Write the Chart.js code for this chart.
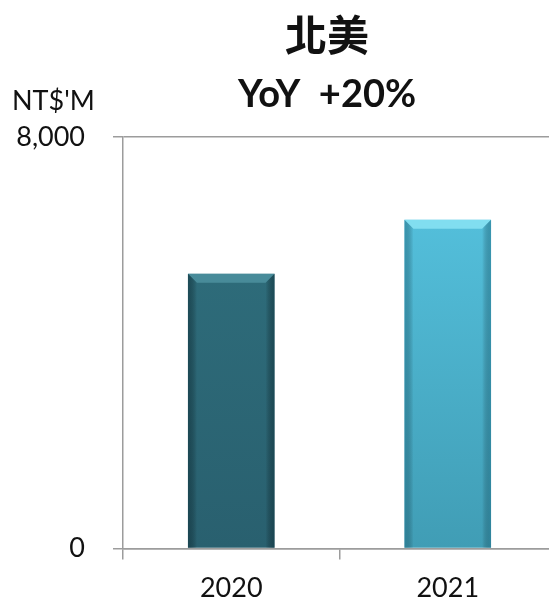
<!DOCTYPE html>
<html>
<head>
<meta charset="utf-8">
<script src="https://cdn.jsdelivr.net/npm/chart.js@4.4.1/dist/chart.umd.min.js"></script>
<style>
  html, body { margin: 0; padding: 0; background: #fff; overflow: hidden; }
  #wrap { width: 549px; height: 603px; overflow: hidden; }
</style>
</head>
<body>
<div id="wrap"><canvas id="chart" width="556" height="616"></canvas></div>
<script>
// chart values
const categories = ['2020', '2021'];
const revenue = [5340, 6390];
const yTicks = [0, 8000];
const chartTitle = '北美';
const chartSubtitle = 'YoY  +20%';
const unitLabel = "NT$'M";

// look
const barTop = ['#30717f', '#58c7e4'];
const barBottom = ['#29606f', '#409db5'];
const bevelLight = ['rgba(95,165,180,0.55)', 'rgba(150,235,250,0.7)'];
const edgeDark = ['rgba(15,50,60,0.55)', 'rgba(30,110,135,0.5)'];
const axisColor = '#9c9c9c';
const textColor = '#111';
const latin = 'Lato, "Open Sans", sans-serif';
const cjk = '"Noto Sans CJK TC", "Noto Sans CJK SC", sans-serif';

// bevel look on the bars, drawn over each bar element
const bevel = {
	id: 'bevel',
	afterDatasetsDraw(chart) {
		const ctx = chart.ctx;
		chart.getDatasetMeta(0).data.forEach((bar, i) => {
			const p = bar.getProps(['x', 'y', 'base', 'width'], true);
			const l = p.x - p.width / 2, r = p.x + p.width / 2, d = 9;
			ctx.save();
			ctx.fillStyle = bevelLight[i];
			ctx.beginPath();
			ctx.moveTo(l, p.y);
			ctx.lineTo(r, p.y);
			ctx.lineTo(r - d, p.y + d);
			ctx.lineTo(l + d, p.y + d);
			ctx.closePath();
			ctx.fill();

			let g = ctx.createLinearGradient(r - d, 0, r, 0);
			g.addColorStop(0, 'rgba(0,0,0,0)');
			g.addColorStop(1, edgeDark[i]);
			ctx.fillStyle = g;
			ctx.beginPath();
			ctx.moveTo(r, p.y);
			ctx.lineTo(r, p.base);
			ctx.lineTo(r - d, p.base);
			ctx.lineTo(r - d, p.y + d);
			ctx.closePath();
			ctx.fill();

			g = ctx.createLinearGradient(l, 0, l + d, 0);
			g.addColorStop(0, edgeDark[i]);
			g.addColorStop(1, 'rgba(0,0,0,0)');
			ctx.fillStyle = g;
			ctx.beginPath();
			ctx.moveTo(l, p.y);
			ctx.lineTo(l + d, p.y + d);
			ctx.lineTo(l + d, p.base);
			ctx.lineTo(l, p.base);
			ctx.closePath();
			ctx.fill();
			ctx.restore();
		});
	}
};

// title, subtitle and unit text; the title block sits over the plot, not the canvas centre
const headings = {
	id: 'headings',
	afterDraw(chart) {
		const ctx = chart.ctx;
		const top = chart.scales.y.getPixelForValue(yTicks[yTicks.length - 1]);
		ctx.save();
		ctx.fillStyle = textColor;
		ctx.textBaseline = 'middle';

		ctx.textAlign = 'center';
		ctx.font = 'bold 42px ' + cjk;
		ctx.fillText(chartTitle, 327, 35);
		ctx.font = 'bold 38px ' + latin;
		ctx.fillText(chartSubtitle, 327, 95);

		ctx.textAlign = 'left';
		ctx.font = '27px ' + latin;
		ctx.fillText(unitLabel, 12, top - 36);
		ctx.restore();
	}
};

new Chart(document.getElementById('chart'), {
	type: 'bar',
	data: {
		labels: categories,
		datasets: [{
			data: revenue,
			backgroundColor: function (c) {
				const area = c.chart.chartArea;
				const i = c.dataIndex;
				if (!area) return barTop[i];
				const g = c.chart.ctx.createLinearGradient(0, area.top, 0, area.bottom);
				g.addColorStop(0, barTop[i]);
				g.addColorStop(1, barBottom[i]);
				return g;
			},
			borderWidth: 0,
			barPercentage: 0.4,
			categoryPercentage: 1
		}]
	},
	options: {
		responsive: false,
		animation: false,
		layout: { padding: { left: 0, right: 0, top: 137, bottom: 0 } },
		plugins: {
			legend: { display: false },
			tooltip: { enabled: false }
		},
		scales: {
			x: {
				grid: { drawOnChartArea: false, drawTicks: true, tickLength: 11, color: axisColor, lineWidth: 1.5 },
				border: { color: axisColor, width: 1.5 },
				ticks: { color: textColor, padding: 12, font: { family: latin, size: 27 } }
			},
			y: {
				min: yTicks[0],
				max: yTicks[yTicks.length - 1],
				afterFit: function (s) { s.width = 123; },
				afterBuildTicks: function (s) { s.ticks = yTicks.map(v => ({ value: v })); },
				grid: { color: axisColor, lineWidth: 1.5, tickLength: 10 },
				border: { color: axisColor, width: 1.5 },
				ticks: {
					color: textColor,
					padding: 28,
					font: { family: latin, size: 27 },
					callback: v => v.toLocaleString('en-US')
				}
			}
		}
	},
	plugins: [bevel, headings]
});
</script>
</body>
</html>
